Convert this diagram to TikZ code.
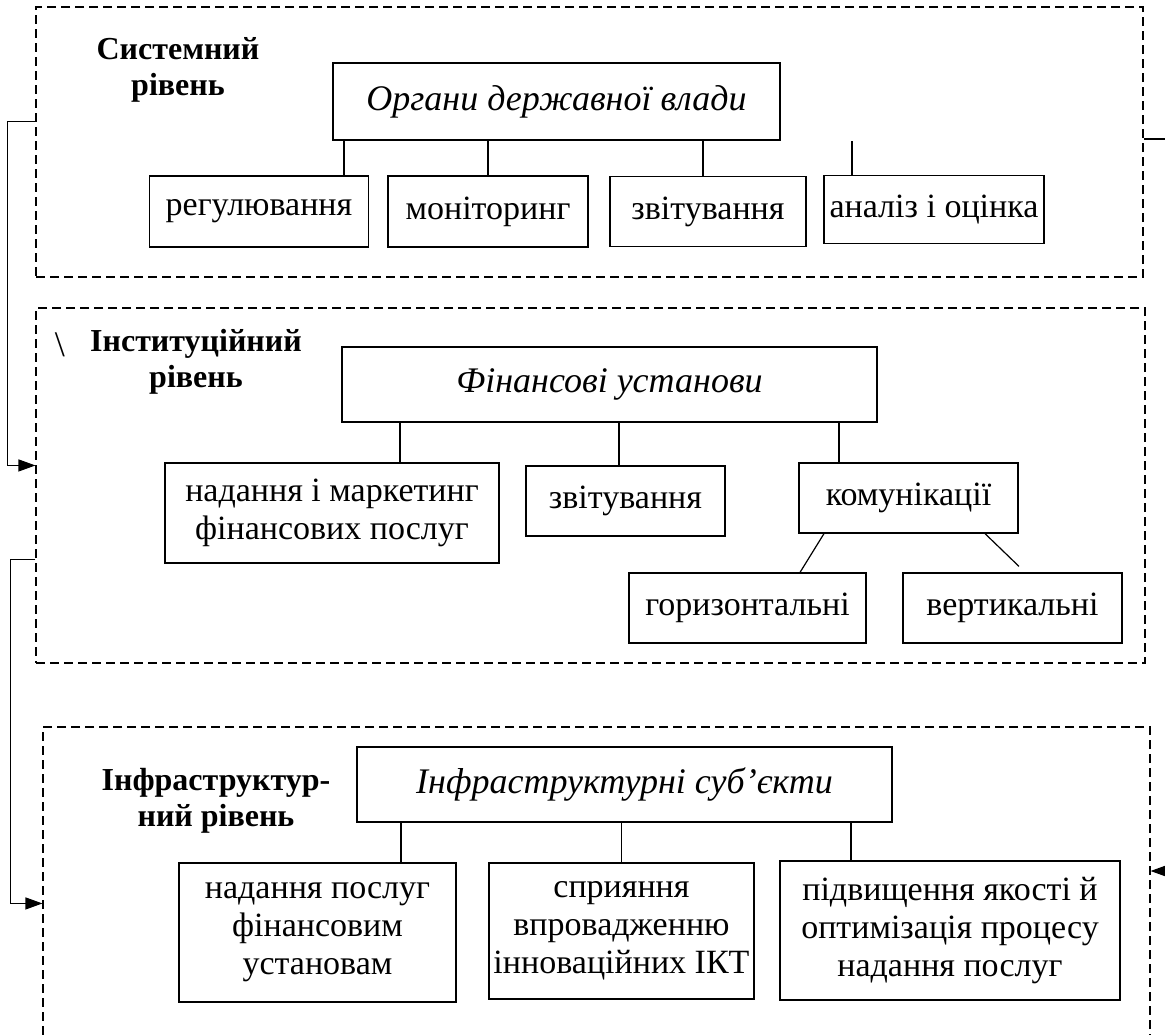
\documentclass[tikz,border=0pt]{standalone}
\usepackage{fontspec}
\setmainfont{Liberation Serif}
\usetikzlibrary{arrows.meta}

\begin{document}
\begin{tikzpicture}[x=1pt, y=-1pt, >={Triangle[length=17pt, width=12pt]}, line width=1.2pt, levelframe/.style={rectangle, draw, dashed, dash pattern=on 9pt off 5pt, line width=1.1pt, minimum width=1107pt, inner sep=0pt}, block/.style={rectangle, draw, inner sep=0pt, align=center, font={\fontsize{34}{38}\selectfont}}, headblock/.style={block, font={\fontsize{36}{40}\selectfont\itshape}}, levelname/.style={align=center, inner sep=0pt, font={\fontsize{32}{36}\selectfont\bfseries}}]
  \useasboundingbox (0,0) rectangle (1165,1034);
  \clip (0,0) rectangle (1165,1034);

  \node[levelframe, minimum height=270pt] (sysframe) at (589.5,142) {};
  \node[levelframe, minimum height=355pt, minimum width=1109pt] (instframe) at (590.5,485.5) {};
  \node[levelframe, minimum height=343pt] (infraframe) at (596.5,898.5) {};

  \node[levelname] (syslbl) at (178,70) {Системний\\рівень};
  \node[headblock, minimum width=447pt, minimum height=77pt] (organy) at (556.5,101.5) {Органи державної влади};
  \node[block, minimum width=219pt, minimum height=71pt] (reg) at (259,211.5) {регулювання};
  \node[block, right of=reg, node distance=229pt, minimum width=200pt, minimum height=71pt] (monit) {моніторинг};
  \node[block, right of=monit, node distance=220pt, minimum width=196pt, minimum height=70pt] (zvitorg) {звітування};
  \node[block, right of=zvitorg, node distance=226pt, minimum width=220pt, minimum height=68pt, yshift=2pt] (analiz) {аналіз і оцінка};

  \draw ([xshift=85pt]reg.north) -- ([xshift=85pt]reg.north |- organy.south);
  \draw (monit.north) -- (monit.north |- organy.south);
  \draw ([xshift=-5pt]zvitorg.north) -- ([xshift=-5pt]zvitorg.north |- organy.south);
  \draw ([xshift=-82pt]analiz.north) -- ([xshift=-82pt]analiz.north |- organy.south);

  \node[font={\fontsize{36}{36}\selectfont}, inner sep=0pt] (slash) at (60,345) {\textbackslash};
  \node[levelname] (instlbl) at (196,362) {Інституційний\\рівень};
  \node[headblock, minimum width=535pt, minimum height=75pt] (finust) at (609.5,384.5) {Фінансові установи};
  \node[block, minimum width=334pt, minimum height=100pt] (nadmark) at (332,513) {надання і маркетинг\\фінансових послуг};
  \node[block, minimum width=199pt, minimum height=70pt] (zvitfin) at (625.5,501) {звітування};
  \node[block, minimum width=219pt, minimum height=70pt] (komun) at (908.5,498) {комунікації};
  \node[block, minimum width=237pt, minimum height=70pt] (horiz) at (747.5,608) {горизонтальні};
  \node[block, right of=horiz, node distance=265pt, minimum width=219pt, minimum height=70pt] (vert) {вертикальні};

  \draw ([xshift=68pt]nadmark.north) -- ([xshift=68pt]nadmark.north |- finust.south);
  \draw ([xshift=-6.5pt]zvitfin.north) -- ([xshift=-6.5pt]zvitfin.north |- finust.south);
  \draw ([xshift=-69.5pt]komun.north) -- ([xshift=-69.5pt]komun.north |- finust.south);
  \draw ([xshift=-84.5pt]komun.south) -- ([xshift=52.5pt]horiz.north);
  \draw ([xshift=76.5pt]komun.south) -- ([xshift=6.5pt, yshift=6pt]vert.north);

  \node[levelname] (infralbl) at (216,801) {Інфраструктур-\\ний рівень};
  \node[headblock, minimum width=535pt, minimum height=75pt] (infsub) at (624.5,784.5) {Інфраструктурні суб’єкти};
  \node[block, minimum width=277pt, minimum height=139pt] (nposlug) at (317.5,932.5) {надання послуг\\фінансовим\\установам};
  \node[block, minimum width=265pt, minimum height=136pt] (spriyan) at (621.5,931) {сприяння\\впровадженню\\інноваційних ІКТ};
  \node[block, minimum width=340pt, minimum height=139pt] (pidvysh) at (950,930.5) {підвищення якості й\\оптимізація процесу\\надання послуг};

  \draw ([xshift=83.5pt]nposlug.north) -- ([xshift=83.5pt]nposlug.north |- infsub.south);
  \draw (spriyan.north) -- (spriyan.north |- infsub.south);
  \draw ([xshift=-99pt]pidvysh.north) -- ([xshift=-99pt]pidvysh.north |- infsub.south);

  \coordinate (sysout) at (1165,139);
  \coordinate (infrain) at (1168,871);

  \draw[->] ([yshift=-115pt]sysframe.north west) -- ++(-28,0) |- ([yshift=-158pt]instframe.north west);
  \draw[->] ([yshift=-252pt]instframe.north west) -- ++(-25,0) |- ([yshift=-177pt]infraframe.north west);
  \draw (sysout -| sysframe.east) -- (sysout);
  \draw[->] (infrain) -- (infrain -| infraframe.east);

\end{tikzpicture}
\end{document}
